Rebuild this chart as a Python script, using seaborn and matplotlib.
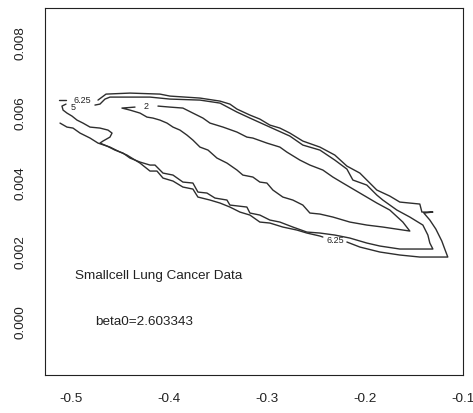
import matplotlib
matplotlib.use("Agg")
import matplotlib.pyplot as plt
import pandas as pd
import seaborn as sns

# contour level 6.25 (outer, open at the left grid edge), split where labels sit
c625a_x = [-0.5119, -0.5048]
c625a_y = [0.006370, 0.006370]
c625b_x = [-0.4722, -0.4681, -0.4640, -0.4396, -0.4091, -0.3989, -0.3683, -0.3479, -0.3378, -0.3306,
           -0.3174, -0.3073, -0.2971, -0.2869, -0.2767, -0.2635, -0.2461, -0.2309, -0.2186, -0.2054,
           -0.1983, -0.1881, -0.1749, -0.1647, -0.1443, -0.1422, -0.1310, -0.1402, -0.1341, -0.1280,
           -0.1219, -0.1189, -0.1158, -0.1443, -0.1647, -0.1850, -0.2054, -0.2186]
c625b_y = [0.006370, 0.006456, 0.006542, 0.006571, 0.006542, 0.006485, 0.006428, 0.006341, 0.006255, 0.006112,
           0.005940, 0.005825, 0.005653, 0.005567, 0.005423, 0.005194, 0.005021, 0.004792, 0.004476, 0.004275,
           0.004075, 0.003788, 0.003615, 0.003443, 0.003386, 0.003156, 0.003156, 0.003128, 0.002927, 0.002669,
           0.002324, 0.002095, 0.001865, 0.001865, 0.001923, 0.002009, 0.002152, 0.002296]
c625c_x = [-0.2431, -0.2461, -0.2594, -0.2696, -0.2839, -0.2971, -0.3073, -0.3174, -0.3276, -0.3378,
           -0.3479, -0.3581, -0.3704, -0.3755, -0.3857, -0.3958, -0.4060, -0.4121, -0.4192, -0.4294,
           -0.4427, -0.4498, -0.4600, -0.4722, -0.4803, -0.4905, -0.4977, -0.5038, -0.5109]
c625c_y = [0.002439, 0.002468, 0.002554, 0.002640, 0.002726, 0.002841, 0.002869, 0.003070, 0.003156, 0.003300,
           0.003415, 0.003501, 0.003587, 0.003816, 0.003874, 0.004046, 0.004132, 0.004333, 0.004333, 0.004562,
           0.004792, 0.004878, 0.005021, 0.005136, 0.005280, 0.005423, 0.005567, 0.005595, 0.005710]

# contour level 5
c5_x = [-0.5048, -0.5089, -0.5078, -0.5038, -0.4987, -0.4936, -0.4875, -0.4803, -0.4702, -0.4620,
        -0.4579, -0.4600, -0.4671, -0.4702, -0.4630, -0.4549, -0.4467, -0.4396, -0.4294, -0.4192,
        -0.4141, -0.4060, -0.3958, -0.3857, -0.3755, -0.3704, -0.3612, -0.3530, -0.3408, -0.3378,
        -0.3205, -0.3174, -0.3073, -0.2971, -0.2869, -0.2737, -0.2594, -0.2461, -0.2309, -0.2156,
        -0.1983, -0.1850, -0.1647, -0.1443, -0.1310, -0.1341, -0.1361, -0.1412, -0.1545, -0.1677,
        -0.1820, -0.1881, -0.1983, -0.2125, -0.2186, -0.2309, -0.2461, -0.2635, -0.2767, -0.2971,
        -0.3174, -0.3306, -0.3479, -0.3683, -0.3989, -0.4192, -0.4600, -0.4651, -0.4702, -0.4753]
c5_y = [0.006255, 0.006198, 0.006083, 0.005997, 0.005911, 0.005796, 0.005710, 0.005595, 0.005567, 0.005509,
        0.005423, 0.005308, 0.005194, 0.005136, 0.005050, 0.004935, 0.004849, 0.004706, 0.004591, 0.004505,
        0.004505, 0.004275, 0.004218, 0.004017, 0.003989, 0.003730, 0.003702, 0.003558, 0.003501, 0.003357,
        0.003300, 0.003128, 0.003070, 0.002927, 0.002869, 0.002726, 0.002582, 0.002554, 0.002496, 0.002410,
        0.002267, 0.002181, 0.002095, 0.002095, 0.002095, 0.002267, 0.002496, 0.002783, 0.003013, 0.003214,
        0.003501, 0.003644, 0.003931, 0.004075, 0.004390, 0.004648, 0.004935, 0.005079, 0.005337, 0.005595,
        0.005854, 0.006026, 0.006284, 0.006370, 0.006399, 0.006456, 0.006456, 0.006399, 0.006255, 0.006227]

# contour level 2 (inner)
c2_x = [-0.4111, -0.3989, -0.3857, -0.3755, -0.3653, -0.3581, -0.3448, -0.3306, -0.3205, -0.3144,
        -0.3001, -0.2869, -0.2798, -0.2665, -0.2563, -0.2431, -0.2329, -0.2227, -0.2054, -0.1881,
        -0.1749, -0.1616, -0.1545, -0.1820, -0.1983, -0.2156, -0.2329, -0.2461, -0.2563, -0.2635,
        -0.2737, -0.2839, -0.2940, -0.3001, -0.3073, -0.3144, -0.3246, -0.3306, -0.3408, -0.3510,
        -0.3601, -0.3683, -0.3755, -0.3816, -0.3887, -0.3958, -0.4019, -0.4091, -0.4162, -0.4223,
        -0.4294, -0.4396, -0.4478, -0.4345]
c2_y = [0.006198, 0.006169, 0.006141, 0.005997, 0.005854, 0.005710, 0.005595, 0.005452, 0.005308, 0.005280,
        0.005136, 0.005021, 0.004878, 0.004648, 0.004505, 0.004362, 0.004161, 0.003989, 0.003702, 0.003415,
        0.003214, 0.002869, 0.002611, 0.002726, 0.002783, 0.002869, 0.003013, 0.003099, 0.003128, 0.003357,
        0.003501, 0.003587, 0.003788, 0.003989, 0.004017, 0.004161, 0.004218, 0.004362, 0.004562, 0.004706,
        0.004935, 0.005021, 0.005222, 0.005366, 0.005509, 0.005595, 0.005710, 0.005796, 0.005854, 0.005882,
        0.005997, 0.006083, 0.006141, 0.006169]

# contour labels: text, x, y
label_text = ["6.25", "5", "2", "6.25"]
label_x = [-0.4884, -0.4977, -0.4233, -0.2309]
label_y = [0.006370, 0.006169, 0.006198, 0.002353]

x_ticks = [-0.5, -0.4, -0.3, -0.2, -0.1]
y_ticks = [0.000, 0.002, 0.004, 0.006, 0.008]

segments = {"c625a": (c625a_x, c625a_y), "c625b": (c625b_x, c625b_y), "c625c": (c625c_x, c625c_y),
            "c5": (c5_x, c5_y), "c2": (c2_x, c2_y)}
df = pd.concat([pd.DataFrame({"x": sx, "y": sy, "seg": name}) for name, (sx, sy) in segments.items()],
               ignore_index=True)

sns.set_style("white")
plt.rcParams["font.family"] = ["Liberation Sans", "DejaVu Sans"]
plt.rcParams["axes.unicode_minus"] = False

fig = plt.figure(figsize=(4.73, 4.13), dpi=100)
ax = fig.add_axes([0.0945, 0.0920, 0.8850, 0.8886])

sns.lineplot(data=df, x="x", y="y", units="seg", estimator=None, sort=False,
             color="#2e2e2e", linewidth=1.0, legend=False, ax=ax)

for t, lx, ly in zip(label_text, label_x, label_y):
    ax.text(lx, ly, t, fontsize=6.5, ha="center", va="center", color="#222222")

ax.text(-0.4955, 0.00132, "Smallcell Lung Cancer Data", fontsize=9.7, ha="left", va="center", color="#222222")
ax.text(-0.4752, 0.0000, "beta0=2.603343", fontsize=9.7, ha="left", va="center", color="#222222")

ax.set_xlim(-0.5265, -0.1)
ax.set_ylim(-0.001521, 0.009013)
ax.set_xticks(x_ticks)
ax.set_xticklabels([f"{v:.1f}" for v in x_ticks])
ax.set_yticks(y_ticks)
ax.set_yticklabels([f"{v:.3f}" for v in y_ticks], rotation=90, va="center")
ax.set_xlabel("")
ax.set_ylabel("")
ax.tick_params(direction="out", length=5.8, width=0.8, color="#333333", labelsize=9.7,
               labelcolor="#222222", pad=7)
for s in ax.spines.values():
    s.set_visible(True)
    s.set_color("#222222")
    s.set_linewidth(0.8)

fig.savefig("out.png", dpi=100)
